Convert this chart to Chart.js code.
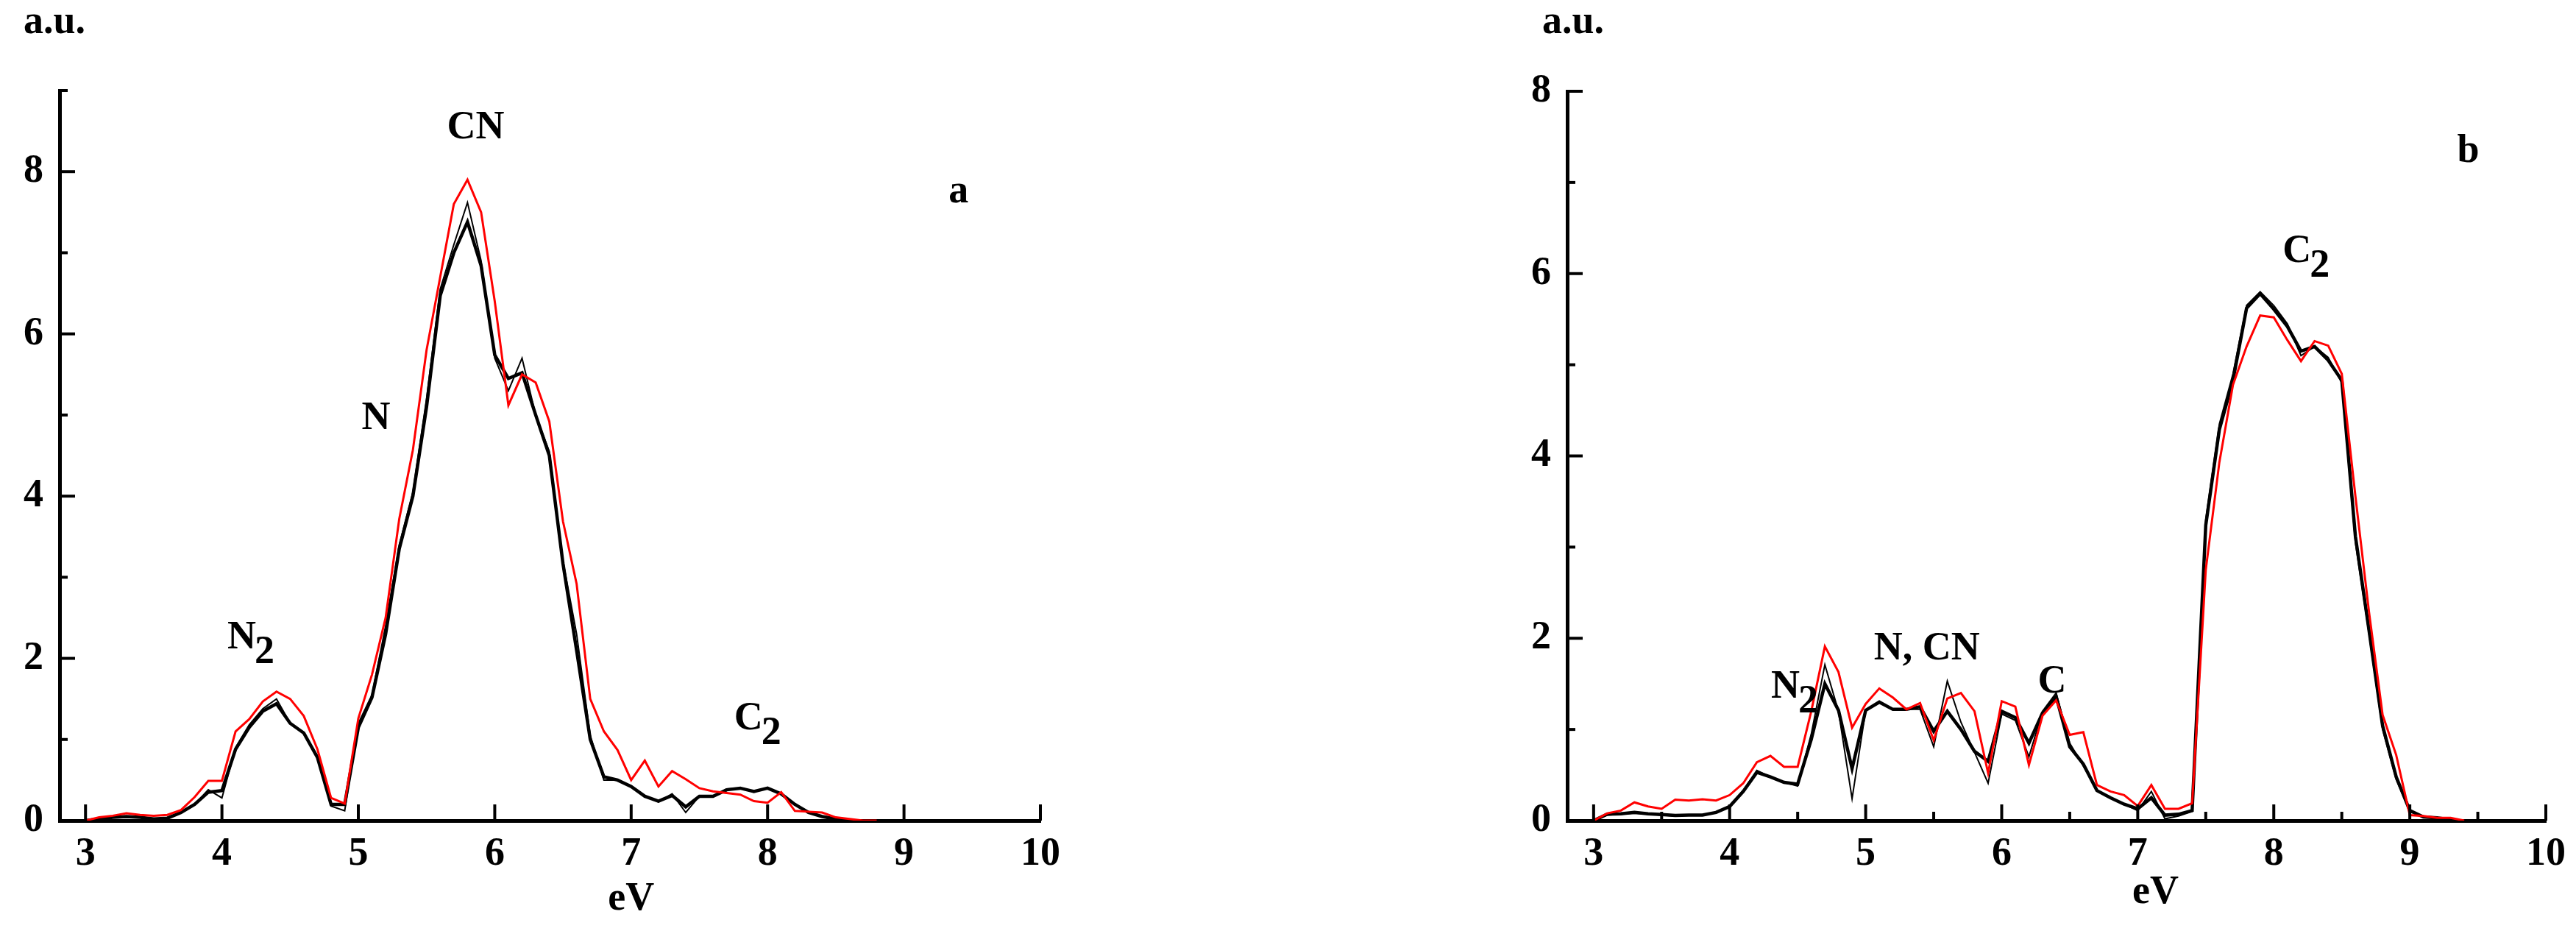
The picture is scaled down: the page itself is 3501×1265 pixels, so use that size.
<!DOCTYPE html>
<html><head><meta charset="utf-8">
<script src="https://cdn.jsdelivr.net/npm/chart.js@4.4.0/dist/chart.umd.min.js"></script>
<style>
html,body{margin:0;padding:0;background:#fff;}
#wrap{position:relative;width:3501px;height:1265px;overflow:hidden;background:#fff;}
.box{position:absolute;top:0;height:1265px;}
</style></head><body>
<div id="wrap">
<div class="box" style="left:0;width:1750px"><canvas id="ca"></canvas></div>
<div class="box" style="left:1750px;width:1751px"><canvas id="cb"></canvas></div>
</div>
<script>
// ---------- Panel a ----------
const energyA = [3.0,3.1,3.2,3.3,3.4,3.5,3.6,3.7,3.8,3.9,4.0,4.1,4.2,4.3,4.4,4.5,4.6,4.7,4.8,4.9,
  5.0,5.1,5.2,5.3,5.4,5.5,5.6,5.7,5.8,5.9,6.0,6.1,6.2,6.3,6.4,6.5,6.6,6.7,6.8,6.9,
  7.0,7.1,7.2,7.3,7.4,7.5,7.6,7.7,7.8,7.9,8.0,8.1,8.2,8.3,8.4,8.5,8.6,8.7,8.8];
const redA = [0,0.04,0.06,0.09,0.07,0.06,0.07,0.13,0.29,0.49,0.49,1.1,1.25,1.47,1.59,1.5,1.29,0.88,0.28,0.21,
  1.26,1.8,2.5,3.72,4.57,5.8,6.7,7.6,7.9,7.5,6.4,5.12,5.5,5.4,4.92,3.69,2.92,1.5,1.1,0.87,
  0.5,0.74,0.42,0.61,0.51,0.4,0.36,0.34,0.32,0.24,0.22,0.35,0.12,0.11,0.1,0.04,0.02,0,0];
const blackThickA = [0,0.02,0.04,0.05,0.04,0.02,0.03,0.1,0.2,0.35,0.37,0.88,1.15,1.35,1.44,1.2,1.08,0.78,0.2,0.2,
  1.15,1.52,2.3,3.35,4.0,5.1,6.47,7.0,7.38,6.84,5.74,5.45,5.52,5.0,4.5,3.17,2.1,1.0,0.54,0.5,
  0.42,0.3,0.24,0.31,0.17,0.3,0.3,0.38,0.4,0.36,0.4,0.33,0.2,0.1,0.05,0.02,0,null,null];
const blackThinA = [0,0.02,0.04,0.05,0.04,0.02,0.03,0.1,0.2,0.38,0.28,0.9,1.18,1.38,1.5,1.2,1.08,0.8,0.18,0.12,
  1.2,1.55,2.4,3.4,4.05,5.2,6.55,7.1,7.62,6.9,5.7,5.3,5.7,5.0,4.55,3.2,2.3,1.05,0.5,0.5,
  0.43,0.3,0.23,0.33,0.1,0.3,0.3,0.39,0.4,0.36,0.4,0.33,0.2,0.1,0.05,0.02,0,null,null];
const xTicksA = [3,4,5,6,7,8,9,10];
const yTicksA = [0,2,4,6,8];
const yMinorA = [1,3,5,7,9];

// ---------- Panel b ----------
const energyB = [3.0,3.1,3.2,3.3,3.4,3.5,3.6,3.7,3.8,3.9,4.0,4.1,4.2,4.3,4.4,4.5,4.6,4.7,4.8,4.9,
  5.0,5.1,5.2,5.3,5.4,5.5,5.6,5.7,5.8,5.9,6.0,6.1,6.2,6.3,6.4,6.5,6.6,6.7,6.8,6.9,
  7.0,7.1,7.2,7.3,7.4,7.5,7.6,7.7,7.8,7.9,8.0,8.1,8.2,8.3,8.4,8.5,8.6,8.7,8.8,8.9,
  9.0,9.1,9.2,9.3,9.4];
const redB = [0,0.08,0.11,0.2,0.155,0.13,0.23,0.22,0.235,0.22,0.28,0.41,0.64,0.71,0.59,0.59,1.2,1.91,1.63,1.02,
  1.28,1.45,1.35,1.22,1.29,0.88,1.34,1.4,1.2,0.52,1.31,1.25,0.61,1.15,1.32,0.94,0.97,0.39,0.32,0.28,
  0.16,0.39,0.13,0.13,0.19,2.75,3.93,4.78,5.2,5.54,5.52,5.27,5.04,5.26,5.21,4.9,3.56,2.29,1.16,0.72,
  0.06,0.05,0.03,0.03,0];
const blackThickB = [0,0.07,0.075,0.09,0.075,0.067,0.056,0.06,0.06,0.09,0.155,0.32,0.53,0.48,0.42,0.4,0.89,1.5,1.21,0.57,
  1.21,1.3,1.22,1.22,1.25,0.98,1.2,1.0,0.76,0.65,1.2,1.13,0.85,1.18,1.36,0.81,0.62,0.33,0.25,0.18,
  0.13,0.25,0.06,0.07,0.11,3.24,4.29,4.83,5.62,5.78,5.61,5.42,5.15,5.2,5.05,4.83,3.12,2.09,1.04,0.48,
  0.11,0.04,0.03,0.01,null];
const blackThinB = [0,0.06,0.07,0.08,0.07,0.06,0.05,0.06,0.06,0.09,0.16,0.33,0.55,0.48,0.42,0.38,0.95,1.71,1.2,0.24,
  1.21,1.3,1.22,1.22,1.22,0.81,1.53,1.08,0.75,0.41,1.17,1.1,0.7,1.2,1.4,0.85,0.6,0.33,0.25,0.18,
  0.11,0.32,0.02,0.05,0.1,3.3,4.35,4.9,5.65,5.8,5.65,5.45,5.1,5.2,5.08,4.8,3.05,2.05,1.0,0.45,
  0.1,0.04,0.03,0.01,null];
const xTicksB = [3,4,5,6,7,8,9,10];
const xMinorB = [3.5,4.5,5.5,6.5,7.5,8.5,9.5];
const yTicksB = [0,2,4,6,8];
const yMinorB = [1,3,5,7];

// ---------- text ----------
const FONT = 'bold 54px "Liberation Serif", "Times New Roman", serif';
const annotationsA = [
  {text:'CN', x:5.86, y:8.54},
  {text:'N', x:5.13, y:4.95},
  {text:'N', sub:'2', x:4.145, y:2.25},
  {text:'C', sub:'2', x:7.86, y:1.25},
  {text:'a', x:9.40, y:7.75}
];
const annotationsB = [
  {text:'C', sub:'2', x:8.17, y:6.24},
  {text:'N, CN', x:5.45, y:1.88},
  {text:'N', sub:'2', x:4.41, y:1.46},
  {text:'C', x:6.37, y:1.52},
  {text:'b', x:9.43, y:7.34}
];

const deco = {
  id: 'deco',
  afterDraw(chart, args, o) {
    const ctx = chart.ctx, xs = chart.scales.x, ys = chart.scales.y, ca = chart.chartArea;
    ctx.save();
    ctx.strokeStyle = '#000';
    ctx.lineWidth = 4;
    ctx.lineCap = 'butt';
    const seg = (x1,y1,x2,y2) => { ctx.beginPath(); ctx.moveTo(x1,y1); ctx.lineTo(x2,y2); ctx.stroke(); };
    o.xMajor.forEach(v => { const p = xs.getPixelForValue(v); seg(p, ca.bottom, p, ca.bottom - 22); });
    (o.xMinor||[]).forEach(v => { const p = xs.getPixelForValue(v); seg(p, ca.bottom, p, ca.bottom - 12); });
    o.yMajor.forEach(v => { const p = ys.getPixelForValue(v); seg(ca.left, p, ca.left + 21, p); });
    o.yMinor.forEach(v => { const p = ys.getPixelForValue(v); seg(ca.left, p, ca.left + 11, p); });

    ctx.fillStyle = '#000';
    ctx.font = FONT;
    // y-axis unit
    ctx.textAlign = 'left'; ctx.textBaseline = 'alphabetic';
    ctx.fillText('a.u.', ca.left + o.auDx, o.auY);
    // x-axis title
    ctx.textAlign = 'center'; ctx.textBaseline = 'middle';
    ctx.fillText('eV', xs.getPixelForValue(o.evX), o.evY);
    // peak labels
    o.notes.forEach(n => {
      const px = xs.getPixelForValue(n.x), py = ys.getPixelForValue(n.y);
      if (!n.sub) {
        ctx.textAlign = 'center';
        ctx.fillText(n.text, px, py);
      } else {
        const w = ctx.measureText(n.text).width;
        ctx.textAlign = 'center';
        ctx.fillText(n.text, px, py);
        ctx.textAlign = 'left';
        ctx.fillText(n.sub, px + w/2 - 2, py + 20);
      }
    });
    ctx.restore();
  }
};

function pts(xsArr, ysArr){ return xsArr.map((e,i)=>({x:e, y:ysArr[i]})); }

function makeChart(id, cfg) {
  return new Chart(document.getElementById(id), {
    type: 'line',
    data: {
      datasets: [
        {data: pts(cfg.energy, cfg.red), borderColor:'#ff0000', borderWidth:3, order:0},
        {data: pts(cfg.energy, cfg.thin), borderColor:'#000', borderWidth:2, order:1},
        {data: pts(cfg.energy, cfg.thick), borderColor:'#000', borderWidth:4.5, order:2}
      ]
    },
    options: {
      responsive: true,
      maintainAspectRatio: false,
      animation: false,
      devicePixelRatio: 1,
      layout: {padding: cfg.padding},
      elements: {point:{radius:0}, line:{tension:0, borderJoinStyle:'miter', borderCapStyle:'butt'}},
      plugins: {
        legend: {display:false},
        tooltip: {enabled:false},
        deco: {xMajor: cfg.xTicks, xMinor: cfg.xMinor, yMajor: cfg.yTicks, yMinor: cfg.yMinor,
               auDx: cfg.auDx, auY: cfg.auY, evX: cfg.evX, evY: cfg.evY, notes: cfg.notes}
      },
      scales: {
        x: {
          type: 'linear', min: cfg.xMin, max: 10,
          afterBuildTicks: s => { s.ticks = cfg.xTicks.map(v => ({value:v})); },
          afterFit: s => { s.height = 150; },
          grid: {display:false, drawTicks:false},
          border: {display:true, color:'#000', width:5},
          ticks: {color:'#000', font:{family:'"Liberation Serif", serif', size:54, weight:'bold'}, padding:14, maxRotation:0, autoSkip:false}
        },
        y: {
          type: 'linear', min: 0, max: cfg.yMax,
          afterBuildTicks: s => { s.ticks = cfg.yTicks.map(v => ({value:v})); },
          afterFit: s => { s.width = cfg.yWidth; },
          grid: {display:false, drawTicks:false},
          border: {display:true, color:'#000', width:5},
          ticks: {color:'#000', font:{family:'"Liberation Serif", serif', size:54, weight:'bold'}, padding:22}
        }
      }
    },
    plugins: [deco]
  });
}

makeChart('ca', {
  energy: energyA, red: redA, thin: blackThinA, thick: blackThickA,
  xTicks: xTicksA, xMinor: [], yTicks: yTicksA, yMinor: yMinorA,
  xMin: 2.81, yMax: 9, yWidth: 81,
  padding: {left:0, top:123, right:336, bottom:0},
  auDx: -49, auY: 45, evX: 7.0, evY: 1222, notes: annotationsA
});
makeChart('cb', {
  energy: energyB, red: redB, thin: blackThinB, thick: blackThickB,
  xTicks: xTicksB, xMinor: xMinorB, yTicks: yTicksB, yMinor: yMinorB,
  xMin: 2.806, yMax: 8, yWidth: 80,
  padding: {left:300, top:124, right:35, bottom:0},
  auDx: -34, auY: 45, evX: 7.13, evY: 1213, notes: annotationsB
});
</script>
</body></html>
